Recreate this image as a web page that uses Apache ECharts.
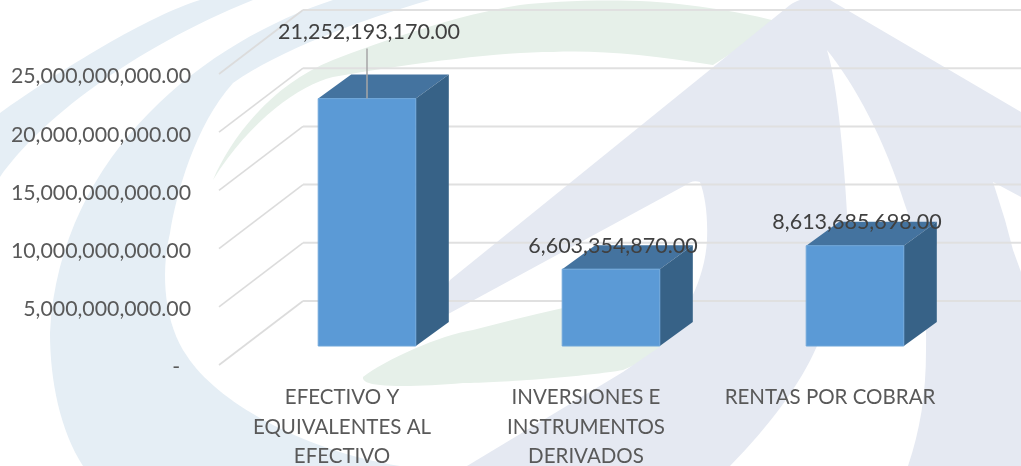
<!DOCTYPE html>
<html>
<head>
<meta charset="utf-8">
<style>html,body{margin:0;padding:0;background:#fff}#c{width:1021px;height:466px}</style>
<script src="https://cdn.jsdelivr.net/npm/echarts@6/dist/echarts.min.js"></script>
</head>
<body>
<div id="c"></div>
<script>
const categories = ['EFECTIVO Y\nEQUIVALENTES AL\nEFECTIVO', 'INVERSIONES E\nINSTRUMENTOS\nDERIVADOS', 'RENTAS POR COBRAR'];
const values = [21252193170, 6603354870, 8613685698];
const yTicks = [0, 5000000000, 10000000000, 15000000000, 20000000000, 25000000000];
const labelLift = [43, 0, 0];

const FONT = 'Lato';
const fmt = v => v.toLocaleString('en-US', {minimumFractionDigits: 2, maximumFractionDigits: 2});
const WALL = {dx: 84, dy: -64};
const BAR = {dx: 33, dy: -24, shiftX: 25, shiftY: -19, widthRatio: 0.4};

const bgShapes = [
  ['M200,0 C150,15 60,70 0,113 L0,177 C40,120 130,50 253,0 Z', '#e5eef5'],
  ['M333,0 C210,40 60,150 50,333 C50,380 60,430 83,466 L400,466 C300,450 215,400 187,356 C165,325 160,275 170,233 C176,195 195,125 233,83 C280,50 360,20 430,0 Z', '#e5eef5'],
  ['M213,180 C230,140 270,85 333,60 C380,42 460,14 520,5 C560,0 640,-2 687,5 C720,9 750,14 780,22 L713,65 C650,55 600,50 553,52 C500,52 420,62 333,77 C300,85 250,120 213,180 Z', '#e6f0e9'],
  ['M363,377 C385,360 440,335 473,330 C530,315 590,300 645,295 L680,345 L623,370 C590,376 500,383 463,383 C430,386 397,387 380,385 C368,384 362,381 363,377 Z', '#e6f0e9'],
  ['M467,466 L623,372 L661,346 C685,315 705,280 707,240 C708,215 705,195 700,182 C694,180 690,182 684,186 L450,313 L425,325 L450,280 L790,5 C800,-3 820,-4 830,0 L1021,112 L1021,466 Z', '#e5e9f2'],
  ['M827,50 C838,85 845,170 848,233 L830,300 L817,346 C800,385 770,425 730,466 L908,466 C920,430 926,395 926,350 C928,300 915,230 905,205 C885,140 855,85 827,50 Z', '#ffffff'],
  ['M993,182 L1021,197 L1021,272 L1013,250 L1005,220 Z', '#ffffff']
];

function renderBackground() {
  return {type: 'group', children: bgShapes.map(s => ({
    type: 'path', shape: {pathData: s[0]}, style: {fill: s[1]}
  }))};
}

function renderWall(params, api) {
  const cs = params.coordSys;
  const v = api.value(0);
  const y = api.coord([0, v])[1];
  const x0 = cs.x - 1;
  const xb = x0 + WALL.dx;
  const yb = y + WALL.dy;
  return {
    type: 'group',
    children: [
      {type: 'line', shape: {x1: x0, y1: y, x2: xb, y2: yb},
        style: {stroke: '#dcdcdc', lineWidth: 1.6}},
      {type: 'line', shape: {x1: xb, y1: yb, x2: cs.x + cs.width + WALL.dx, y2: yb},
        style: {stroke: '#e0e0e0', lineWidth: 2}}
    ]
  };
}

function renderBar(params, api) {
  const i = api.value(0);
  const v = api.value(1);
  const base = api.coord([i, 0]);
  const top = api.coord([i, v]);
  const w = api.size([1, 0])[0] * BAR.widthRatio;
  const xc = base[0] + BAR.shiftX;
  const l = xc - w / 2, r = xc + w / 2;
  const yB = base[1] + BAR.shiftY, yT = top[1] + BAR.shiftY;
  const d = BAR.dx, e = BAR.dy;
  const lift = labelLift[i];
  const children = [
    {type: 'polygon', shape: {points: [[l, yT], [l + d, yT + e], [r + d, yT + e], [r, yT]]},
      style: {fill: '#44739f'}},
    {type: 'polygon', shape: {points: [[r, yT], [r + d, yT + e], [r + d, yB + e], [r, yB]]},
      style: {fill: '#376287'}},
    {type: 'rect', shape: {x: l, y: yT, width: w, height: yB - yT},
      style: {fill: '#5b9ad6', stroke: '#6ea6d9', lineWidth: 1}}
  ];
  if (lift > 0) {
    children.push({type: 'line', shape: {x1: xc, y1: yT + e - lift + 17, x2: xc, y2: yT},
      style: {stroke: '#a6a6a6', lineWidth: 1.5}});
  }
  children.push({type: 'text', z2: 10, style: {
    text: fmt(v), x: xc + 2, y: yT + e - lift + 0.5,
    fill: '#404040', font: '21.5px ' + FONT, align: 'center', verticalAlign: 'middle'
  }});
  return {type: 'group', children};
}

const chart = echarts.init(document.getElementById('c'), null, {renderer: 'canvas'});
chart.setOption({
  animation: false,
  backgroundColor: '#ffffff',
  grid: {left: 220, right: 69, top: 74, bottom: 101, containLabel: false, outerBoundsMode: 'none'},
  xAxis: {
    type: 'category', data: categories, boundaryGap: true,
    axisLine: {show: false}, axisTick: {show: false}, splitLine: {show: false},
    axisLabel: {color: '#595959', fontFamily: FONT, fontSize: 20.5, lineHeight: 29.5, margin: 18, interval: 0}
  },
  yAxis: {
    type: 'value', min: 0, max: 25000000000, interval: 5000000000,
    axisLine: {show: false}, axisTick: {show: false}, splitLine: {show: false},
    axisLabel: {color: '#595959', fontFamily: FONT, fontSize: 21.3, margin: 29, verticalAlign: 'top', lineHeight: 5,
      formatter: v => (v === 0 ? '-\u00a0\u00a0' : fmt(v))}
  },
  series: [
    {type: 'custom', coordinateSystem: 'none', z: 0, silent: true,
      data: [[0]], renderItem: renderBackground},
    {type: 'custom', coordinateSystem: 'cartesian2d', z: 1, silent: true, clip: false,
      data: yTicks.map(v => [v]), encode: {y: 0}, renderItem: renderWall},
    {type: 'custom', coordinateSystem: 'cartesian2d', z: 3, silent: true, clip: false,
      data: values.map((v, i) => [i, v]), encode: {x: 0, y: 1}, renderItem: renderBar}
  ]
});
</script>
</body>
</html>
